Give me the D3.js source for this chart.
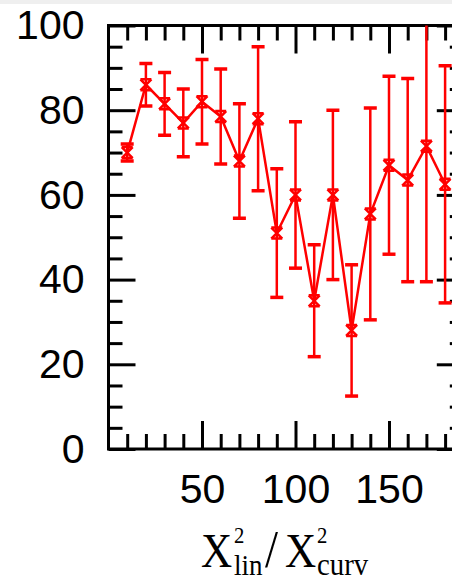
<!DOCTYPE html>
<html><head><meta charset="utf-8">
<script src="https://cdn.jsdelivr.net/npm/d3@7"></script>
<style>body{margin:0;background:#fff}svg{display:block}</style>
</head><body>
<script>
const xValues = [10,20,30,40,50,60,70,80,90,100,110,120,130,140,150,160,170,180];
const yValues = [70,86,81.5,77,82,78.5,68,78,51,60,35,60,28,55.5,67,63.5,71.5,62.5];
const yErrors = [2,5,7.4,8,10,11.2,13.5,17,15.2,17.3,13.2,20,15.5,25,21,24,32,28];
const xMajorTicks = [50,100,150];
const xMinorTicks = [10,20,30,40,60,70,80,90,110,120,130,140,160,170,180];
const yMajorTicks = [0,20,40,60,80,100];
const yMinorTicks = [5,10,15,25,30,35,45,50,55,65,70,75,85,90,95];

const W = 452, H = 582;
const svg = d3.select("body").append("svg").attr("width", W).attr("height", H);
svg.append("rect").attr("width", W).attr("height", H).attr("fill", "#fff");
svg.append("rect").attr("width", W).attr("height", 4).attr("fill", "#efefef");

const x = d3.scaleLinear().domain([0,190]).range([108.5, 463.8]);
const y = d3.scaleLinear().domain([0,100]).range([449, 25.5]);

const font = "'Liberation Sans', Arial, sans-serif";
function styleAxis(g){
  g.select(".domain").remove();
  g.selectAll(".tick line").attr("stroke","#000").attr("stroke-width",3);
  g.selectAll("text").attr("font-family",font).attr("font-size",41).attr("fill","#000");
}
// left
svg.append("g").attr("transform",`translate(${x(0)},0)`)
  .call(d3.axisLeft(y).tickValues(yMajorTicks).tickSize(-27).tickPadding(24).tickFormat(d3.format("d"))).call(styleAxis);
svg.append("g").attr("transform",`translate(${x(0)},0)`)
  .call(d3.axisLeft(y).tickValues(yMinorTicks).tickSize(-14).tickFormat("")).call(styleAxis);
// right
svg.append("g").attr("transform",`translate(${x(190)},0)`)
  .call(d3.axisRight(y).tickValues(yMajorTicks).tickSize(-27).tickFormat("")).call(styleAxis);
svg.append("g").attr("transform",`translate(${x(190)},0)`)
  .call(d3.axisRight(y).tickValues(yMinorTicks).tickSize(-14).tickFormat("")).call(styleAxis);
// bottom
svg.append("g").attr("transform",`translate(0,${y(0)})`)
  .call(d3.axisBottom(x).tickValues(xMajorTicks).tickSize(-28).tickPadding(25).tickFormat(d3.format("d"))).call(styleAxis);
svg.append("g").attr("transform",`translate(0,${y(0)})`)
  .call(d3.axisBottom(x).tickValues(xMinorTicks).tickSize(-15).tickFormat("")).call(styleAxis);
// top
svg.append("g").attr("transform",`translate(0,${y(100)})`)
  .call(d3.axisTop(x).tickValues(xMajorTicks).tickSize(-28).tickFormat("")).call(styleAxis);
svg.append("g").attr("transform",`translate(0,${y(100)})`)
  .call(d3.axisTop(x).tickValues(xMinorTicks).tickSize(-15).tickFormat("")).call(styleAxis);

// frame
svg.append("rect").attr("x",x(0)).attr("y",y(100)).attr("width",x(190)-x(0)).attr("height",y(0)-y(100))
  .attr("fill","none").attr("stroke","#000").attr("stroke-width",3);

// clip
svg.append("clipPath").attr("id","clip").append("rect")
  .attr("x",x(0)).attr("y",y(100)).attr("width",x(190)-x(0)).attr("height",y(0)-y(100));
const plot = svg.append("g").attr("clip-path","url(#clip)");
const data = xValues.map((v,i)=>({x:v,y:yValues[i],e:yErrors[i]}));
const red = "#ff0000";

// error bars
const eb = plot.selectAll("g.eb").data(data).join("g");
eb.append("line").attr("x1",d=>x(d.x)).attr("x2",d=>x(d.x))
  .attr("y1",d=>y(d.y+d.e)).attr("y2",d=>y(d.y-d.e)).attr("stroke",red).attr("stroke-width",2.5);
eb.append("line").attr("x1",d=>x(d.x)-6.5).attr("x2",d=>x(d.x)+6.5)
  .attr("y1",d=>y(d.y+d.e)).attr("y2",d=>y(d.y+d.e)).attr("stroke",red).attr("stroke-width",3.5);
eb.append("line").attr("x1",d=>x(d.x)-6.5).attr("x2",d=>x(d.x)+6.5)
  .attr("y1",d=>y(d.y-d.e)).attr("y2",d=>y(d.y-d.e)).attr("stroke",red).attr("stroke-width",3.5);

// line
plot.append("path").datum(data)
  .attr("d", d3.line().x(d=>x(d.x)).y(d=>y(d.y)))
  .attr("fill","none").attr("stroke",red).attr("stroke-width",2.5);

// markers (hourglass x)
const s = 5.5;
plot.selectAll("path.mk").data(data).join("path")
  .attr("d", d=>{const cx=x(d.x), cy=y(d.y);
    return `M${cx-s},${cy-s}L${cx+s},${cy+s}M${cx+s},${cy-s}L${cx-s},${cy+s}M${cx-s},${cy-s}L${cx+s},${cy-s}M${cx-s},${cy+s}L${cx+s},${cy+s}`;})
  .attr("fill","none").attr("stroke",red).attr("stroke-width",2.5);

// x label: one text element, pieces as tspans (horizontally condensed)
const serif = "'Liberation Serif', 'Times New Roman', serif";
const sx = 0.9;
const lab = svg.append("text").attr("font-family",serif).attr("fill","#000")
  .attr("transform",`scale(${sx},1)`);
const parts = [
  ["X", 201, 567, 48],
  ["2", 234, 543, 23],
  ["lin", 234, 575, 30],
  ["/", 265, 567, 52],
  ["X", 285, 567, 48],
  ["2", 317, 543, 23],
  ["curv", 317, 575, 32]
];
parts.forEach(p=>{
  lab.append("tspan").attr("x",p[1]/sx).attr("y",p[2]).attr("font-size",p[3]).text(p[0]);
});
</script>
</body></html>
